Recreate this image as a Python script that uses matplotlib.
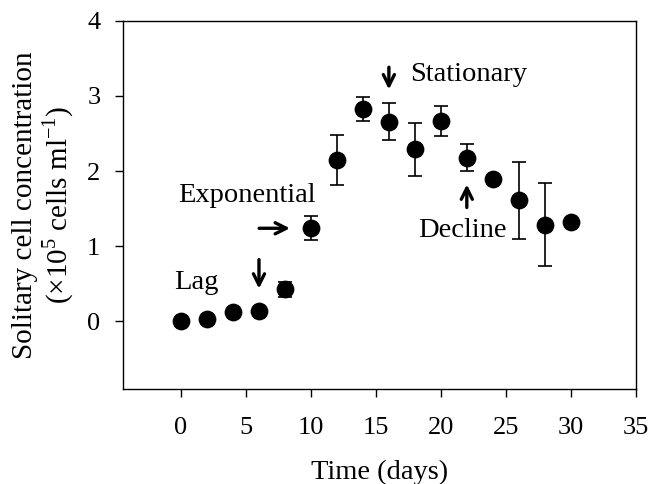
import numpy as np
import matplotlib
matplotlib.use('Agg')
import matplotlib.pyplot as plt

plt.rcParams['font.family'] = ['Liberation Serif', 'DejaVu Serif']
plt.rcParams['mathtext.fontset'] = 'custom'
plt.rcParams['mathtext.rm'] = 'Liberation Serif'

# data
days = [0, 2, 4, 6, 8, 10, 12, 14, 16, 18, 20, 22, 24, 26, 28, 30]
conc = [0.00, 0.03, 0.12, 0.14, 0.43, 1.24, 2.15, 2.83, 2.66, 2.29, 2.67, 2.18, 1.90, 1.61, 1.29, 1.32]
err = [0.0, 0.0, 0.0, 0.0, 0.10, 0.16, 0.33, 0.16, 0.24, 0.35, 0.20, 0.18, 0.0, 0.51, 0.55, 0.0]

fig = plt.figure(figsize=(6.52, 4.84), dpi=100)
ax = fig.add_axes([0.188, 0.196, 0.787, 0.761])

ax.errorbar(days, conc, yerr=err, fmt='o', color='black', ms=11.8,
            ecolor='black', elinewidth=1.2, capsize=5, capthick=1.2)

ax.set_xlim(-4.5, 35)
ax.set_ylim(-0.9, 4)
ax.set_xticks(np.arange(0, 36, 5))
ax.set_yticks(np.arange(0, 5, 1))
ax.tick_params(direction='out', length=6, width=1, labelsize=19)
ax.tick_params(axis='x', pad=14)
ax.tick_params(axis='y', pad=10)
for s in ax.spines.values():
    s.set_linewidth(1)

ax.set_xlabel('Time (days)', fontsize=20.5, labelpad=15)
ax.set_ylabel('Solitary cell concentration\n(\u00d710$^{5}$ cells ml$^{-1}$)', fontsize=21,
              labelpad=8, linespacing=1.1)

arrow = dict(arrowstyle='->', lw=2.4, color='black', mutation_scale=20)
ax.text(1.2, 0.52, 'Lag', fontsize=20.5, ha='center', va='center')
ax.annotate('', xy=(6, 0.40), xytext=(6, 0.86), arrowprops=arrow)
ax.text(5.1, 1.67, 'Exponential', fontsize=20.5, ha='center', va='center')
ax.annotate('', xy=(8.6, 1.24), xytext=(5.8, 1.24), arrowprops=arrow)
ax.text(17.6, 3.28, 'Stationary', fontsize=20.5, ha='left', va='center')
ax.annotate('', xy=(16, 3.05), xytext=(16, 3.42), arrowprops=arrow)
ax.text(21.65, 1.21, 'Decline', fontsize=20.5, ha='center', va='center')
ax.annotate('', xy=(22, 1.86), xytext=(22, 1.48), arrowprops=arrow)

fig.savefig('out.png', dpi=100)
